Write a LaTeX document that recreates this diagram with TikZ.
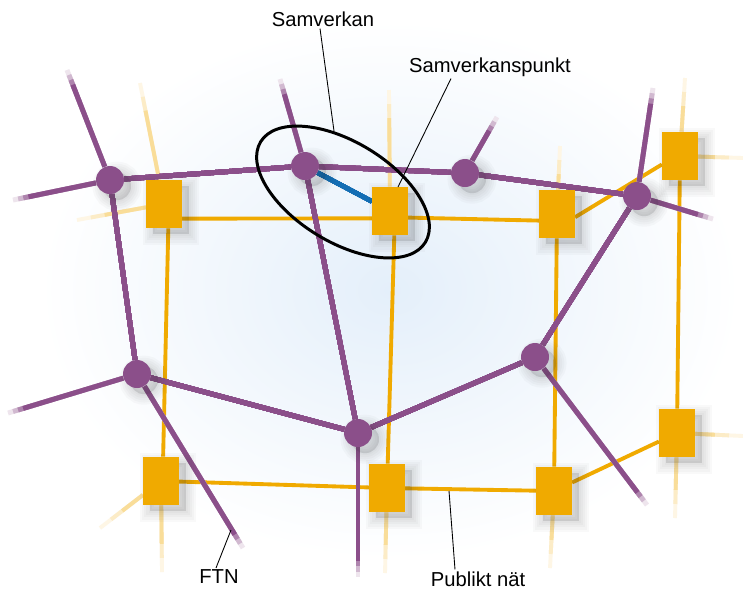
\documentclass[tikz,border=0pt]{standalone}
\usepackage{fontspec}
\setmainfont{Liberation Sans}
\definecolor{purp}{RGB}{139,79,138}
\definecolor{orng}{RGB}{240,170,0}
\definecolor{wblue}{RGB}{20,110,180}
\definecolor{bgblue}{RGB}{228,239,250}
\pgfdeclarelayer{bg}
\pgfdeclarelayer{wires}
\pgfsetlayers{bg,wires,main}
\tikzset{
  purpline/.style={line width=2.8pt, draw=purp},
  orngline/.style={line width=2.2pt, draw=orng},
  shadowstep/.style={preaction={draw=black!80, fill=black!80, line width=#1, opacity=0.028,
      transform canvas={xshift=4pt, yshift=-3.5pt}}},
  softshadow/.style={shadowstep=12pt, shadowstep=9.5pt, shadowstep=7pt, shadowstep=4.5pt, shadowstep=2pt},
  ftnnode/.style={circle, fill=purp, minimum size=0.56cm, inner sep=0pt, softshadow},
  pubnode/.style={rectangle, fill=orng, minimum width=0.71cm, minimum height=0.96cm, inner sep=0pt, softshadow},
  txt/.style={font=\fontsize{11.5}{14}\selectfont, inner sep=1pt},
  leader/.style={draw=black, line width=0.5pt}
}
% faded loose end: [steps]{from}{to}{colour}
\newcommand{\fadestub}[4][0/15,3/40,6/70,9/100]{%
  \foreach \s/\o in {#1}
    \draw[#4line, draw=#4!\o, shorten >=\s pt] (#2) -- (#3);}

\begin{document}
\begin{tikzpicture}[x=0.02cm, y=-0.02cm]
  \useasboundingbox (0,0) rectangle (743,603);
  \begin{pgfonlayer}{bg}
    \fill[white] (0,0) rectangle (743,603);
    \shade[inner color=bgblue, outer color=white] (390,290) ellipse (7cm and 5.4cm);
  \end{pgfonlayer}

  % FTN nodes
  \node[ftnnode] (p1) at (110,180) {};
  \node[ftnnode] (p2) at (305,166) {};
  \node[ftnnode] (p3) at (465,173) {};
  \node[ftnnode] (p4) at (637,196) {};
  \node[ftnnode] (p5) at (137,374) {};
  \node[ftnnode] (p6) at (358,433) {};
  \node[ftnnode] (p7) at (535,357) {};

  % public network nodes
  \node[pubnode] (s1) at (164,204) {};
  \node[pubnode] (s2) at (390,211) {};
  \node[pubnode] (s3) at (557,214) {};
  \node[pubnode] (s4) at (680,156) {};
  \node[pubnode] (s5) at (161,481) {};
  \node[pubnode] (s6) at (387,488) {};
  \node[pubnode] (s7) at (554,491) {};
  \node[pubnode] (s8) at (677,433) {};

  % loose ends
  \coordinate (a1) at (67,70);
  \coordinate (a2) at (13,200);
  \coordinate (a3) at (280,79);
  \coordinate (a4) at (497,117);
  \coordinate (a5) at (653,88);
  \coordinate (a6) at (713,219);
  \coordinate (a7) at (8,413);
  \coordinate (a8) at (243,548);
  \coordinate (a9) at (358,577);
  \coordinate (a10) at (647,505);
  \coordinate (b1) at (140,83);
  \coordinate (b2) at (77,220);
  \coordinate (b3) at (389,90);
  \coordinate (b4) at (560,146);
  \coordinate (b5) at (685,78);
  \coordinate (b6) at (743,158);
  \coordinate (b7) at (100,528);
  \coordinate (b8) at (162,572);
  \coordinate (b9) at (385,573);
  \coordinate (b10) at (550,568);
  \coordinate (b11) at (675,518);
  \coordinate (b12) at (743,436);

  \begin{pgfonlayer}{wires}
    \foreach \from/\to in {s1.-39/s2.202, s2.-20/s3.200, s3.-10/s4.205, s1.-80/s5.85, s2.-80/s6, s3/s7, s4/s8, s5/s6, s6/s7, s7/s8}
      \draw[orngline] (\from) -- (\to);
    \foreach \from/\to in {s1/b1, s1/b2, s2/b3, s3/b4, s4/b5, s4/b6, s5/b7, s5/b8, s6/b9, s7/b10, s8/b11, s8/b12}
      \fadestub[0/10,8/22,16/40]{\from}{\to}{orng}
    \foreach \from/\to in {p1/p2, p2/p3, p3/p4, p1/p5, p2/p6, p5/p6, p6/p7, p7/p4}
      \draw[purpline] (\from) -- (\to);
    \foreach \from/\to in {p1/a1, p1/a2, p2/a3, p3/a4, p4/a5, p4/a6, p5/a7, p5/a8, p6/a9, p7/a10}
      \fadestub{\from}{\to}{purp}
    \draw[line width=2.6pt, draw=wblue] (p2) -- (s2);
  \end{pgfonlayer}

  % Samverkan ring
  \draw[line width=1.7pt, rotate around={-31.4:(343,192)}] (343,192) ellipse (1.93cm and 1cm);

  % labels
  \node[txt] (sam) at (323,19) {Samverkan};
  \node[txt] (sampkt) at (490,67) {Samverkanspunkt};
  \node[txt] (ftn) at (219,577) {FTN};
  \node[txt] (pub) at (478,579) {Publikt nät};
  \coordinate (c1) at (334,131);
  \coordinate (c2) at (398,187);
  \coordinate (c3) at (231,530);
  \coordinate (c4) at (449,491);
  \draw[leader] ([xshift=-0.06cm]sam.south) -- (c1);
  \draw[leader] ([xshift=-0.78cm]sampkt.south) -- (c2);
  \draw[leader] ([xshift=-0.06cm]ftn.north) -- (c3);
  \draw[leader] ([xshift=-0.46cm]pub.north) -- (c4);
\end{tikzpicture}
\end{document}
